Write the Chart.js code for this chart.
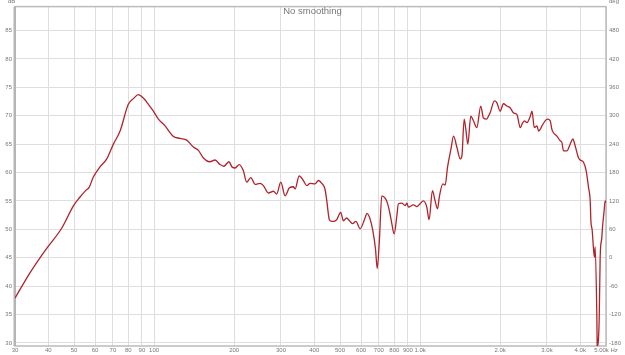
<!DOCTYPE html>
<html>
<head>
<meta charset="utf-8">
<script src="https://cdn.jsdelivr.net/npm/chart.js@4/dist/chart.umd.min.js"></script>
<style>
  html, body { margin: 0; padding: 0; background: #fff; }
  #wrap { position: relative; width: 625px; height: 355px; }
  .lbl { position: absolute; font-family: "Liberation Sans", Arial, sans-serif; color: #777; white-space: nowrap; }
  #title { left: 0; width: 625px; top: 5px; text-align: center; font-size: 9.5px; color: #777; }
  #unitL { left: 8px; top: -2px; font-size: 6px; }
  #unitR { left: 609px; top: -2px; font-size: 6px; }
</style>
</head>
<body>
<div id="wrap">
  <canvas id="rew" width="625" height="355"></canvas>
  <div class="lbl" id="title">No smoothing</div>
  <div class="lbl" id="unitL">dB</div>
  <div class="lbl" id="unitR">deg</div>
</div>
<script>
// tần số (Hz) và mức SPL (dB) đọc từ đồ thị
var freqHz = [30, 33.7, 37.8, 40, 44.8, 50, 52.5, 55.5, 57, 59.1, 62.6, 66.4, 70.3, 74.5, 80, 83.6, 87.3, 91.1, 95.2, 99.4,
    103.8, 110, 118, 125, 132.7, 140.5, 146.8, 153, 162, 169.6, 177, 183, 191, 197, 201.6, 209, 216.6, 223, 231, 240,
    250, 257.6, 269, 281, 289, 299.5, 310.8, 322.6, 334, 339, 351, 364, 375, 386, 403, 415, 427, 439, 446, 456,
    466, 480, 486, 503, 515, 529, 545, 558, 574, 595, 622, 631, 649, 664, 680, 690, 703, 718, 739, 753,
    771, 783, 799, 818, 829, 854, 879, 892, 904, 945, 973, 1000, 1029, 1060, 1081, 1113, 1139, 1163, 1183, 1218,
    1243, 1268, 1306, 1336, 1376, 1415, 1436, 1465, 1486, 1512, 1551, 1587, 1634, 1691, 1731, 1782, 1807, 1834, 1903, 1943,
    2000, 2058, 2119, 2181, 2245, 2313, 2381, 2416, 2465, 2523, 2596, 2635, 2688, 2751, 2789, 2830, 2872, 2953, 3013, 3084,
    3130, 3173, 3268, 3363, 3413, 3460, 3563, 3667, 3754, 3829, 3941, 3999, 4115, 4212, 4297, 4361, 4387, 4437, 4487, 4526,
    4553, 4621, 4633, 4713, 4754, 4824, 4846, 4921, 4964, 5000];
var splDb = [37.9, 41.9, 45.4, 47.0, 50.1, 54.3, 55.6, 56.9, 57.4, 59.2, 61.0, 62.4, 65.0, 67.3, 72.0, 73.0, 73.7, 73.1, 72.0, 70.8,
    69.4, 68.2, 66.4, 66.0, 65.7, 64.5, 63.9, 62.6, 61.9, 62.2, 61.4, 61.1, 61.9, 60.9, 60.8, 61.4, 60.3, 58.3, 59.1, 57.9,
    58.1, 57.7, 56.4, 56.7, 56.2, 58.3, 55.9, 57.3, 57.5, 57.1, 59.4, 58.6, 57.7, 58.1, 58.0, 58.6, 58.1, 57.1, 55.0, 51.7,
    51.4, 51.5, 51.7, 53.0, 51.5, 52.0, 51.4, 51.0, 51.4, 50.1, 52.1, 52.8, 51.8, 49.8, 46.5, 43.1, 48.0, 55.9, 55.5, 54.7,
    52.7, 51.0, 49.2, 52.4, 54.5, 54.6, 54.2, 54.6, 53.9, 54.3, 54.0, 54.5, 55.0, 53.9, 51.7, 56.8, 55.0, 53.6, 55.9, 58.0,
    57.8, 60.9, 64.1, 66.4, 64.4, 62.4, 62.9, 69.4, 67.6, 65.0, 69.9, 69.1, 67.9, 71.7, 69.6, 69.4, 69.9, 70.5, 72.6, 72.3,
    70.8, 72.1, 71.7, 71.4, 70.5, 70.2, 67.9, 68.5, 69.1, 68.8, 69.9, 70.8, 67.9, 68.2, 67.3, 67.6, 68.2, 69.1, 69.4, 69.1,
    67.6, 67.0, 66.4, 65.6, 65.3, 63.8, 63.8, 65.0, 65.9, 64.7, 62.6, 62.2, 61.8, 60.3, 57.4, 55.0, 51.5, 49.8, 46.6, 45.1,
    46.9, 34.0, 29.4, 34.0, 45.1, 48.6, 50.1, 53.3, 55.0, 54.7];

var xTicks = [30, 40, 50, 60, 70, 80, 90, 100, 200, 300, 400, 500, 600, 700, 800, 900, 1000, 2000, 3000, 4000, 5000];
var xTickLabels = ['30', '40', '50', '60', '70', '80', '90', '100', '200', '300', '400', '500', '600', '700', '800', '900',
    '1.0k', '2.0k', '3.0k', '4.0k', '5.00k Hz'];
var dbTicks = [30, 35, 40, 45, 50, 55, 60, 65, 70, 75, 80, 85];
var degTicks = [-180, -120, -60, 0, 60, 120, 180, 240, 300, 360, 420, 480];

var dbMin = 29.47, dbMax = 89.2;

var tickFont = { family: 'Liberation Sans', size: 6 };
var tickColor = '#777';
var gridColor = '#dedede';

// khung viền quanh vùng vẽ
var framePlugin = {
    id: 'frame',
    beforeDatasetsDraw: function (chart) {
        var a = chart.chartArea, c = chart.ctx;
        c.save();
        c.strokeStyle = '#bbb';
        c.lineWidth = 1.5;
        c.strokeRect(a.left, a.top, a.right - a.left, a.bottom - a.top);
        c.fillStyle = '#b5b5b5';
        c.fillRect(a.left - 1.5, a.top, 2.5, a.bottom - a.top);
        c.restore();
    }
};

var points = freqHz.map(function (f, i) { return { x: f, y: splDb[i] }; });

new Chart(document.getElementById('rew').getContext('2d'), {
    type: 'line',
    data: {
        datasets: [{
            label: 'SPL',
            data: points,
            borderColor: '#b0232b',
            borderWidth: 1.3,
            pointRadius: 0,
            cubicInterpolationMode: 'monotone',
            yAxisID: 'y'
        }]
    },
    options: {
        responsive: false,
        animation: false,
        layout: { padding: { top: 5 } },
        plugins: { legend: { display: false }, tooltip: { enabled: false }, title: { display: false } },
        scales: {
            x: {
                type: 'logarithmic',
                min: 30,
                max: 5000,
                afterBuildTicks: function (s) { s.ticks = xTicks.map(function (v) { return { value: v }; }); },
                afterFit: function (s) { s.height = 9; },
                ticks: {
                    autoSkip: false, maxRotation: 0, padding: 1, font: tickFont, color: tickColor,
                    callback: function (v) { var i = xTicks.indexOf(v); return i >= 0 ? xTickLabels[i] : ''; }
                },
                grid: { color: gridColor, drawTicks: false },
                border: { display: false }
            },
            y: {
                position: 'left',
                min: dbMin,
                max: dbMax,
                afterBuildTicks: function (s) { s.ticks = dbTicks.map(function (v) { return { value: v }; }); },
                afterFit: function (s) { s.width = 15; },
                ticks: { padding: 3, font: tickFont, color: tickColor },
                grid: { color: gridColor, drawTicks: false },
                border: { display: false }
            },
            y2: {
                position: 'right',
                min: (dbMin - 45) * 12,
                max: (dbMax - 45) * 12,
                afterBuildTicks: function (s) { s.ticks = degTicks.map(function (v) { return { value: v }; }); },
                afterFit: function (s) { s.width = 19; },
                ticks: { padding: 3, font: tickFont, color: tickColor },
                grid: { display: false, drawTicks: false },
                border: { display: false }
            }
        }
    },
    plugins: [framePlugin]
});
</script>
</body>
</html>
